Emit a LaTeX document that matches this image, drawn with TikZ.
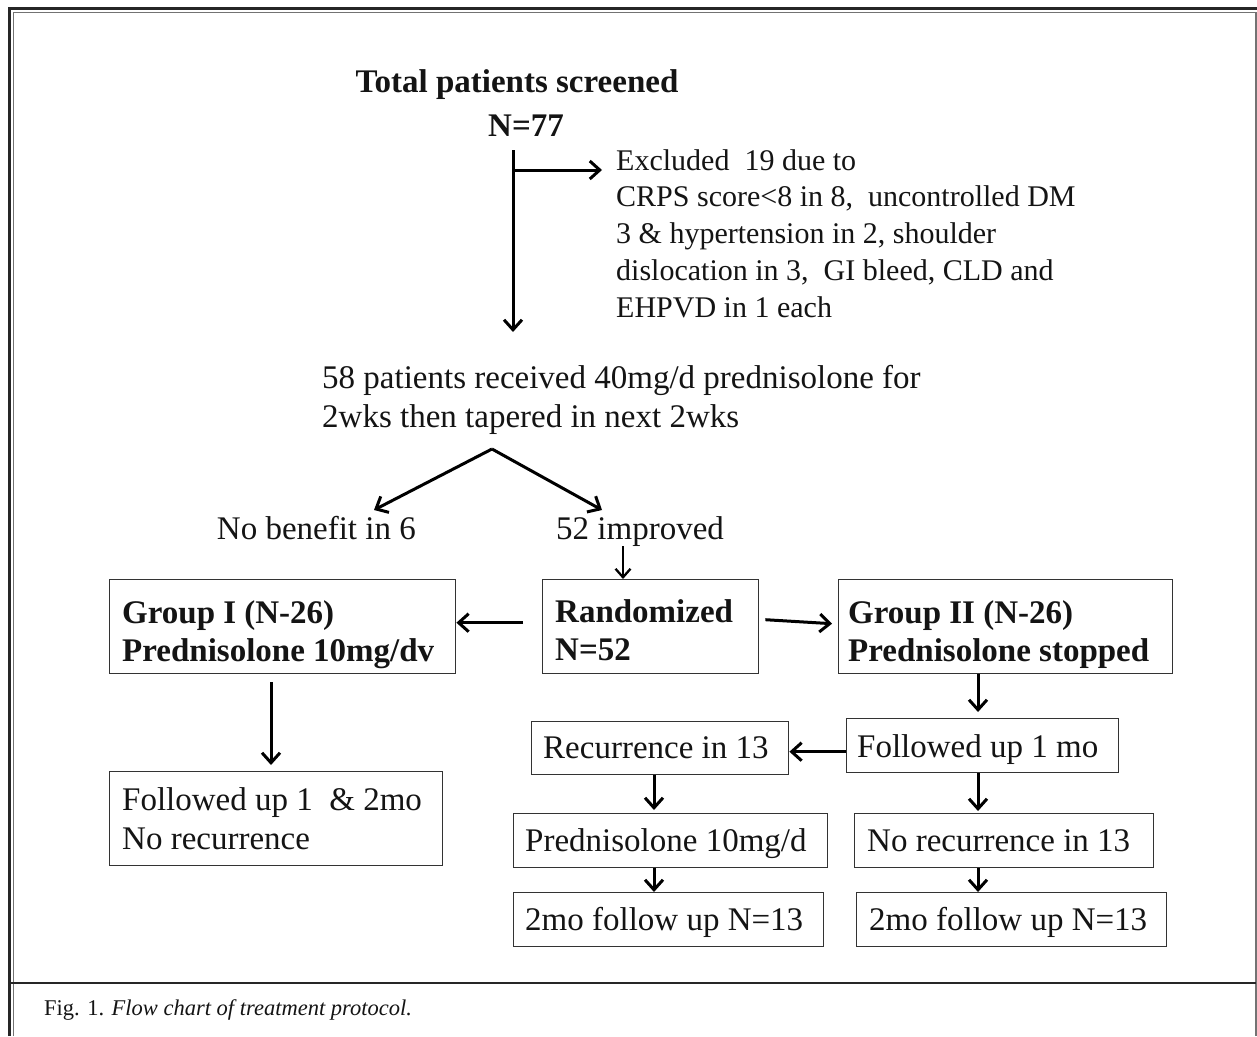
\documentclass[tikz,border=0pt]{standalone}
\usepackage{fontspec}
\setmainfont{Liberation Serif}
\usetikzlibrary{arrows.meta,calc}
\newcommand\fbody{\fontsize{33}{39}\selectfont}
\newcommand\fbold{\fontsize{33}{38}\selectfont\bfseries}
\newcommand\fexcl{\fontsize{30}{36.75}\selectfont}
\newcommand\fcap{\fontsize{22.5}{26}\selectfont}
\newcommand\mylines[1]{\begin{tabular}[t]{@{}l@{}}#1\end{tabular}}
\begin{document}
\begin{tikzpicture}[x=1pt,y=-1pt,
  box/.style={draw=black!80, line width=1.4pt, anchor=north west, inner sep=0pt},
  txt/.style={inner sep=0pt, anchor=base west, text=black!92},
  arr/.style={line width=3pt, -{Straight Barb[length=10pt,width=18pt]}},
  arrthin/.style={line width=2.3pt, -{Straight Barb[length=8.5pt,width=15pt]}}]
\fill[white] (0,0) rectangle (1257,1036);
\useasboundingbox (0,0) rectangle (1257,1036);
% frame
\draw[line width=3pt, black!85] (9,1036) -- (9,8.5) -- (1257,8.5);
\draw[line width=1.3pt, black!55] (13.5,1036) -- (13.5,12.5) -- (1256,12.5) -- (1256,1036);
\draw[line width=2.8pt, black!85] (9,983) -- (1256,983);

% top texts
\node[font=\fbold, inner sep=0pt, anchor=base, text=black!92] (title) at (517,92) {Total patients screened};
\node[font=\fbold, inner sep=0pt, anchor=base, text=black!92] (n77) at (526,136) {N=77};
\node[txt, font=\fexcl] (excl) at (616,170) {\mylines{Excluded \ 19 due to\\CRPS score<8 in 8, \ uncontrolled DM\\3 \& hypertension in 2, shoulder\\dislocation in 3, \ GI bleed, CLD and\\EHPVD in 1 each}};
\node[txt, font=\fbody] (p58) at (322,388) {\mylines{58 patients received 40mg/d prednisolone for\\2wks then tapered in next 2wks}};
\node[font=\fbody, inner sep=0pt, anchor=base east, text=black!92] (nob) at (416,539) {No benefit in 6};
\node[txt, font=\fbody] (imp) at (556,539) {52 improved};

% boxes
\node[box, minimum width=346pt, minimum height=94pt] (g1) at (109,579) {};
\node[txt, font=\fbold] (g1t) at ($(g1.north west)+(13,44)$) {\mylines{Group I (N-26)\\Prednisolone 10mg/dv}};
\node[box, minimum width=216pt, minimum height=94pt] (rand) at (542,579) {};
\node[txt, font=\fbold] (randt) at ($(rand.north west)+(13,43)$) {\mylines{Randomized\\N=52}};
\node[box, minimum width=334pt, minimum height=94pt] (g2) at (838,579) {};
\node[txt, font=\fbold] (g2t) at ($(g2.north west)+(10,44)$) {\mylines{Group II (N-26)\\Prednisolone stopped}};
\node[box, minimum width=333pt, minimum height=94pt] (fu12) at (109,771) {};
\node[txt, font=\fbody] (fu12t) at ($(fu12.north west)+(13,39)$) {\mylines{Followed up 1 \ \& 2mo\\No recurrence}};
\node[box, minimum width=272pt, minimum height=54pt] (fu1) at (846,718) {};
\node[txt, font=\fbody] (fu1t) at ($(fu1.north west)+(11,39)$) {Followed up 1 mo};
\node[box, minimum width=257pt, minimum height=53pt] (rec) at (531,721) {};
\node[txt, font=\fbody] (rect) at ($(rec.north west)+(12,37)$) {Recurrence in 13};
\node[box, minimum width=314pt, minimum height=54pt] (pred) at (513,813) {};
\node[txt, font=\fbody] (predt) at ($(pred.north west)+(12,38)$) {Prednisolone 10mg/d};
\node[box, minimum width=299pt, minimum height=54pt] (norec) at (854,813) {};
\node[txt, font=\fbody] (norect) at ($(norec.north west)+(13,38)$) {No recurrence in 13};
\node[box, minimum width=310pt, minimum height=54pt] (fu2a) at (513,892) {};
\node[txt, font=\fbody] (fu2at) at ($(fu2a.north west)+(12,38)$) {2mo follow up N=13};
\node[box, minimum width=310pt, minimum height=54pt] (fu2b) at (856,892) {};
\node[txt, font=\fbody] (fu2bt) at ($(fu2b.north west)+(13,38)$) {2mo follow up N=13};

% caption
\node[txt, font=\fcap] (cap) at (44,1015) {Fig. 1. \textit{Flow chart of treatment protocol.}};

% connectors
\coordinate (vtop) at (513,150);
\coordinate (vbot) at (513,332);
\coordinate (brk) at (513,170);
\coordinate (extip) at (602,170);
\draw[arr] (vtop) -- (vbot);
\draw[arr] (brk) -- (extip);
\coordinate (apex) at (492,449);
\coordinate (vl) at (374,510);
\coordinate (vr) at (602,510);
\draw[arr] (apex) -- (vl);
\draw[arr] (apex) -- (vr);
\draw[arrthin] (imp.south -| 623,0) -- (rand.north -| 623,0);
\draw[arr] ($(rand.west)+(-19,-4)$) -- ($(g1.east)+(0,-4)$);
\draw[arr] ($(rand.east)+(6,-7)$) -- ($(g2.west)+(-6,-3)$);
\draw[arr, shorten <=8pt, shorten >=6pt] (g1.south -| 271,0) -- (fu12.north -| 271,0);
\draw[arr, shorten >=6pt] (g2.south -| 978,0) -- (fu1.north -| 978,0);
\draw[arr] ($(fu1.west)+(0,6)$) -- ($(rec.east)+(0,3.5)$);
\draw[arr, shorten >=2pt] (fu1.south -| 978,0) -- (norec.north -| 978,0);
\draw[arr] (norec.south -| 978,0) -- (fu2b.north -| 978,0);
\draw[arr, shorten >=3pt] (rec.south -| 654,0) -- (pred.north -| 654,0);
\draw[arr] (pred.south -| 654,0) -- (fu2a.north -| 654,0);
\end{tikzpicture}
\end{document}
